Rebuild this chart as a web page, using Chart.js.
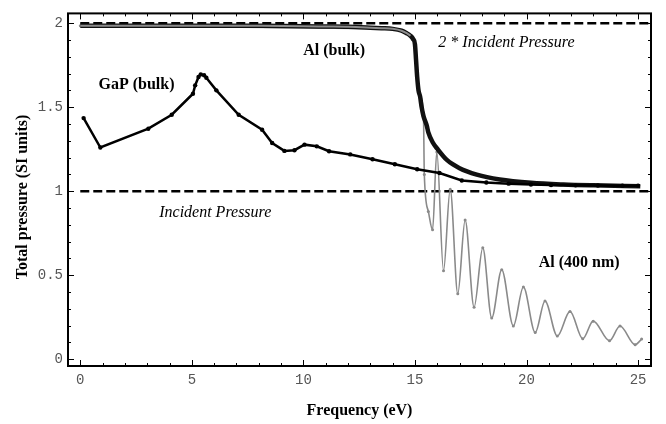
<!DOCTYPE html>
<html>
<head>
<meta charset="utf-8">
<script src="https://cdn.jsdelivr.net/npm/chart.js@4"></script>
<style>
  html, body { margin: 0; padding: 0; background: #fff; }
  #wrap { width: 666px; height: 424px; position: relative; }
</style>
</head>
<body>
<div id="wrap"><canvas id="c" width="666" height="424"></canvas></div>
<script>
// ---- data ----
const gapX = [0.15, 0.9, 3.05, 4.1, 5.05, 5.15, 5.3, 5.4, 5.55, 5.65, 6.1, 7.1, 8.15, 8.6, 9.15, 9.6, 10.05, 10.6, 11.15, 12.1, 13.1, 14.1, 15.1, 16.1, 17.1, 18.2, 19.2, 20.2, 21.1, 22.2, 23.2, 24.3, 25.0];
const gapY = [1.435, 1.26, 1.372, 1.455, 1.58, 1.63, 1.68, 1.695, 1.69, 1.675, 1.6, 1.455, 1.366, 1.287, 1.24, 1.244, 1.277, 1.267, 1.238, 1.219, 1.19, 1.16, 1.131, 1.108, 1.064, 1.052, 1.045, 1.04, 1.037, 1.035, 1.034, 1.033, 1.033];

const alBulkX = [0, 2, 4, 6, 8, 10, 11, 12, 13, 13.5, 14, 14.4, 14.63, 14.8, 14.92, 15.0, 15.05, 15.1, 15.16, 15.23, 15.3, 15.38, 15.53, 15.6, 15.8, 16.0, 16.43, 17.0, 17.77, 18.8, 20.2, 21.65, 23.0, 25.1];
const alBulkY = [1.985, 1.985, 1.985, 1.985, 1.984, 1.982, 1.98, 1.978, 1.973, 1.97, 1.966, 1.955, 1.94, 1.925, 1.905, 1.875, 1.78, 1.68, 1.60, 1.564, 1.50, 1.448, 1.39, 1.35, 1.29, 1.253, 1.186, 1.137, 1.099, 1.07, 1.05, 1.04, 1.035, 1.03];

const alFilmX = [0, 14, 15.0, 15.2, 15.38, 15.42, 15.6, 15.79, 15.98, 16.28, 16.58, 16.92, 17.25, 17.65, 18.04, 18.44, 18.89, 19.41, 19.86, 20.39, 20.83, 21.38, 21.95, 22.52, 22.99, 23.72, 24.19, 24.87, 25.16];
const alFilmY = [1.985, 1.966, 1.875, 1.58, 1.467, 1.1, 0.88, 0.77, 1.234, 0.527, 1.012, 0.39, 0.828, 0.31, 0.663, 0.246, 0.533, 0.198, 0.43, 0.159, 0.347, 0.138, 0.285, 0.122, 0.227, 0.11, 0.198, 0.087, 0.12];

const refX = [0, 25.58];
const incidentY = [1, 1];
const doubleIncidentY = [2, 2];

const xTicks = [0, 5, 10, 15, 20, 25];
const xTickLabels = ["0", "5", "10", "15", "20", "25"];
const yTicks = [0, 0.5, 1, 1.5, 2];
const yTickLabels = ["0", "0.5", "1", "1.5", "2"];

const xLabel = "Frequency (eV)";
const yLabel = "Total pressure (SI units)";
const notes = [
  { text: "Al (bulk)", x: 11.38, y: 1.837, style: "bold" },
  { text: "2 * Incident Pressure", x: 19.1, y: 1.884, style: "italic" },
  { text: "GaP (bulk)", x: 2.52, y: 1.631, style: "bold" },
  { text: "Incident Pressure", x: 6.05, y: 0.872, style: "italic" },
  { text: "Al (400 nm)", x: 22.36, y: 0.576, style: "bold" }
];

const pts = (xs, ys) => xs.map((x, i) => ({ x: x, y: ys[i] }));
const flatX = alBulkX.filter(x => x <= 14.9);
const flatY = alBulkY.slice(0, flatX.length);

const framePlugin = {
  id: 'frame',
  afterDatasetsDraw(chart) {
    const ctx = chart.ctx;
    const a = chart.chartArea;
    const xs = chart.scales.x, ys = chart.scales.y;
    ctx.save();
    ctx.fillStyle = '#000';
    ctx.textAlign = 'center';
    ctx.textBaseline = 'middle';
    notes.forEach(n => {
      ctx.font = (n.style === 'bold' ? 'bold ' : 'italic ') + '16px "Liberation Serif", "Times New Roman", serif';
      ctx.fillText(n.text, xs.getPixelForValue(n.x), ys.getPixelForValue(n.y));
    });
    ctx.strokeStyle = '#000';
    ctx.lineWidth = 1;
    ctx.beginPath();
    for (let v = 0; v <= 25; v += 1) {
      const px = Math.round(xs.getPixelForValue(v)) + 0.5;
      const len = (v % 5 === 0) ? 6 : 3;
      ctx.moveTo(px, a.bottom); ctx.lineTo(px, a.bottom - len);
      ctx.moveTo(px, a.top); ctx.lineTo(px, a.top + len);
    }
    for (let k = 0; k <= 20; k++) {
      const v = k / 10;
      const py = Math.round(ys.getPixelForValue(v)) + 0.5;
      const len = (k % 5 === 0) ? 6 : 3;
      ctx.moveTo(a.left, py); ctx.lineTo(a.left + len, py);
      ctx.moveTo(a.right, py); ctx.lineTo(a.right - len, py);
    }
    ctx.stroke();
    ctx.lineWidth = 2;
    ctx.strokeRect(a.left, a.top, a.right - a.left, a.bottom - a.top);
    ctx.font = 'bold 16px "Liberation Serif", "Times New Roman", serif';
    ctx.fillText(xLabel, (a.left + a.right) / 2, 411);
    ctx.translate(23, 197);
    ctx.rotate(-Math.PI / 2);
    ctx.fillText(yLabel, 0, 0);
    ctx.restore();
  }
};

new Chart(document.getElementById('c'), {
  type: 'scatter',
  data: {
    datasets: [
      { label: 'GaP (bulk)', data: pts(gapX, gapY), showLine: true, borderColor: '#000', backgroundColor: '#000', borderWidth: 2.5, pointRadius: 2.2, pointBorderWidth: 0, order: 1 },
      { label: 'Al bulk flat', data: pts(flatX, flatY), showLine: true, borderColor: '#8c8c8c', borderWidth: 2, pointRadius: 0, cubicInterpolationMode: 'monotone', order: 2 },
      { label: 'Al (bulk)', data: pts(alBulkX, alBulkY), showLine: true, borderColor: '#111', backgroundColor: '#777', borderWidth: 4.5, pointRadius: 0, cubicInterpolationMode: 'monotone', order: 3 },
      { label: 'Al (400 nm)', data: pts(alFilmX, alFilmY), showLine: true, borderColor: '#8a8a8a', backgroundColor: '#8a8a8a', borderWidth: 1.6, pointRadius: 1.5, pointBorderWidth: 0, cubicInterpolationMode: 'monotone', order: 4 },
      { label: 'Incident', data: pts(refX, incidentY), showLine: true, borderColor: '#000', borderWidth: 2.5, borderDash: [9, 4], pointRadius: 0, order: 5 },
      { label: '2x Incident', data: pts(refX, doubleIncidentY), showLine: true, borderColor: '#000', borderWidth: 2.5, borderDash: [9, 4], pointRadius: 0, order: 5 }
    ]
  },
  options: {
    responsive: false,
    animation: false,
    layout: { padding: { left: 0, right: 15, top: 5, bottom: 0 } },
    plugins: { legend: { display: false }, tooltip: { enabled: false } },
    scales: {
      x: {
        type: 'linear', min: -0.55, max: 25.58,
        grid: { display: false, drawTicks: false, tickLength: 0 }, border: { display: false },
        afterBuildTicks: s => { s.ticks = xTicks.map(v => ({ value: v })); },
        afterFit: s => { s.height = 58; },
        ticks: {
          padding: 6, color: '#555', maxRotation: 0, autoSkip: false,
          font: { family: '"Liberation Mono", "Courier New", monospace', size: 14 },
          callback: (v) => { const i = xTicks.indexOf(v); return i >= 0 ? xTickLabels[i] : ''; }
        }
      },
      y: {
        type: 'linear', min: -0.04, max: 2.058,
        grid: { display: false, drawTicks: false, tickLength: 0 }, border: { display: false },
        afterBuildTicks: s => { s.ticks = yTicks.map(v => ({ value: v })); },
        afterFit: s => { s.width = 68; },
        ticks: {
          padding: 5, color: '#555', autoSkip: false,
          font: { family: '"Liberation Mono", "Courier New", monospace', size: 14 },
          callback: (v) => { const i = yTicks.indexOf(v); return i >= 0 ? yTickLabels[i] : ''; }
        }
      }
    }
  },
  plugins: [framePlugin]
});
</script>
</body>
</html>
